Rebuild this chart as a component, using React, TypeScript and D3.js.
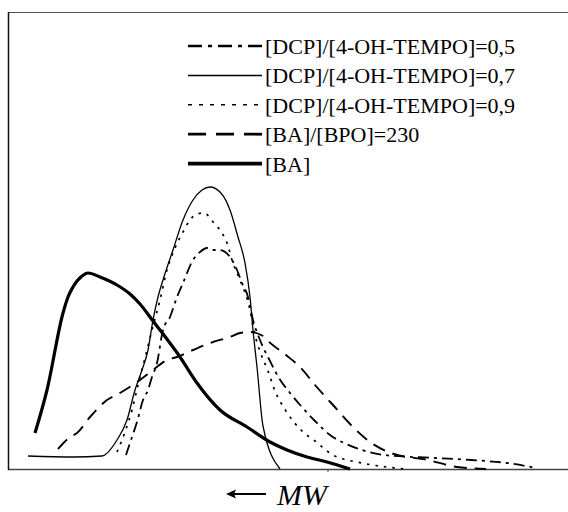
import React from "react";
import * as d3 from "d3";

type Pt = [number, number];

// Elution position (arbitrary units) vs detector response (arbitrary units)
const seriesBA: Pt[] = [
  [27, 36], [39, 79], [55, 156], [60, 172], [65, 182], [74, 193], [80, 196], [92, 192],
  [109, 184], [122, 175], [132, 165], [145, 148], [152, 139], [172, 112], [189, 86],
  [212, 59], [239, 42], [262, 27], [279, 19], [299, 12], [319, 7], [342, 0],
];

const seriesR07: Pt[] = [
  [20, 13], [65, 12], [94, 13], [109, 29], [119, 49], [127, 79], [134, 99], [140, 119],
  [145, 149], [150, 172], [155, 189], [165, 219], [175, 249], [185, 269], [194, 279],
  [202, 282], [212, 277], [222, 259], [230, 232], [237, 206], [242, 172], [245, 139],
  [249, 102], [255, 43], [272, 0],
];

const seriesR09: Pt[] = [
  [109, 17], [117, 37], [124, 59], [130, 84], [137, 111], [144, 139], [152, 169],
  [159, 199], [167, 221], [175, 237], [182, 249], [189, 255], [196, 256], [205, 247],
  [214, 236], [219, 226], [225, 206], [232, 189], [242, 159], [246, 138], [253, 115],
  [260, 98], [267, 78], [278, 58], [293, 39], [307, 28], [325, 14], [354, 6], [398, 0],
];

const seriesR05: Pt[] = [
  [118, 14], [124, 32], [129, 47], [135, 69], [140, 79], [144, 92], [149, 106],
  [155, 139], [162, 152], [169, 172], [175, 186], [185, 209], [192, 217], [199, 221],
  [205, 219], [212, 219], [222, 212], [229, 199], [234, 186], [240, 172], [245, 149],
  [252, 129], [262, 108], [271, 91], [282, 76], [293, 63], [307, 48], [322, 34],
  [336, 26], [354, 19], [376, 14], [427, 11], [463, 9], [499, 6], [528, 1],
];

const seriesBPO: Pt[] = [
  [50, 20], [62, 32], [69, 36], [82, 52], [99, 69], [112, 76], [132, 89], [145, 99],
  [159, 109], [169, 112], [185, 119], [205, 127], [222, 132], [232, 136], [242, 137],
  [255, 133], [260, 128], [278, 114], [293, 101], [307, 84], [325, 64], [343, 44],
  [362, 27], [383, 16], [420, 9], [449, 2], [478, 0],
];

const legendLabels: string[] = [
  "[DCP]/[4-OH-TEMPO]=0,5",
  "[DCP]/[4-OH-TEMPO]=0,7",
  "[DCP]/[4-OH-TEMPO]=0,9",
  "[BA]/[BPO]=230",
  "[BA]",
];

const axisLabel = "MW";

interface Style {
  dash: string;
  width: number;
  legendWidth: number;
  legendDash: string;
}

const styles: Style[] = [
  { dash: "11,5,3,5", width: 1.8, legendWidth: 2.6, legendDash: "14,6,4,6" },
  { dash: "", width: 1.3, legendWidth: 1.5, legendDash: "" },
  { dash: "2.5,6", width: 1.7, legendWidth: 1.5, legendDash: "4,7" },
  { dash: "13,8", width: 1.9, legendWidth: 2.8, legendDash: "18,10" },
  { dash: "", width: 3.2, legendWidth: 3.6, legendDash: "" },
];

const allSeries: Pt[][] = [seriesR05, seriesR07, seriesR09, seriesBPO, seriesBA];

const SERIF = "'Liberation Serif', 'Times New Roman', 'DejaVu Serif', serif";

export default function App() {
  const W = 568;
  const H = 512;
  const x = d3.scaleLinear().domain([0, 560]).range([8, 568]);
  const y = d3.scaleLinear().domain([0, 457]).range([469, 12]);
  const line = d3
    .line<Pt>()
    .x((d) => x(d[0]))
    .y((d) => y(d[1]))
    .curve(d3.curveMonotoneX);

  const legendX0 = 188;
  const legendX1 = 262;
  const legendY0 = 46;
  const legendStep = 29.4;

  return (
    <svg
      width={W}
      height={H}
      style={{ position: "absolute", left: 0, top: 0, background: "#fff" }}
    >
      <rect x={0} y={0} width={W} height={H} fill="#fff" />
      {/* frame */}
      <line x1={8} x2={568} y1={12.5} y2={12.5} stroke="#555" strokeWidth={1.2} />
      <line x1={8} x2={568} y1={469.5} y2={469.5} stroke="#444" strokeWidth={1.4} />
      <line x1={8.5} x2={8.5} y1={12} y2={470} stroke="#111" strokeWidth={1.5} />
      <line x1={x(320)} x2={x(320)} y1={470} y2={472} stroke="#444" strokeWidth={1} />

      {allSeries.map((s, i) => (
        <path
          key={i}
          d={line(s) || ""}
          fill="none"
          stroke="#000"
          strokeWidth={styles[i].width}
          strokeDasharray={styles[i].dash || undefined}
          strokeLinejoin="round"
        />
      ))}

      {legendLabels.map((lab, i) => {
        const ly = legendY0 + i * legendStep;
        return (
          <g key={lab}>
            <line
              x1={legendX0}
              x2={legendX1}
              y1={ly}
              y2={ly}
              stroke="#000"
              strokeWidth={styles[i].legendWidth}
              strokeDasharray={styles[i].legendDash || undefined}
            />
            <text
              x={legendX1 + 3}
              y={ly + 8}
              fill="#000"
              style={{ fontFamily: SERIF, fontSize: "22px" }}
            >
              {lab}
            </text>
          </g>
        );
      })}

      {/* axis label */}
      <line x1={233} x2={266} y1={494} y2={494} stroke="#000" strokeWidth={2.2} />
      <path d="M226,494 L236,489.5 L234,494 L236,498.5 Z" fill="#000" />
      <text
        x={277}
        y={505}
        fill="#000"
        style={{ fontFamily: SERIF, fontSize: "30px", fontStyle: "italic" }}
      >
        {axisLabel}
      </text>
    </svg>
  );
}
